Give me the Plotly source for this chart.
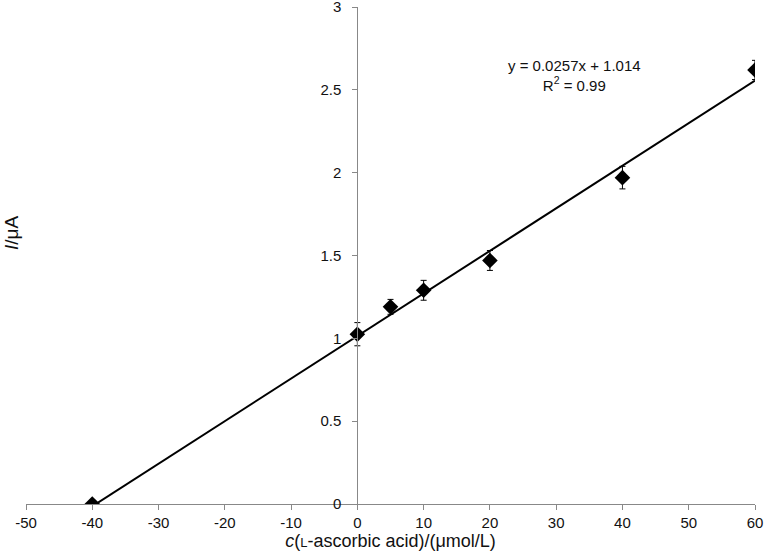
import plotly.graph_objects as go

# measured points
conc = [-40, 0, 5, 10, 20, 40, 60]
current = [0.0, 1.025, 1.19, 1.29, 1.47, 1.97, 2.62]
err = [0, 0.07, 0.045, 0.06, 0.06, 0.068, 0.058]

# linear fit shown on chart
slope = 0.0257
intercept = 1.014
fit_x = [-40, 60]
fit_y = [slope * v + intercept for v in fit_x]

x_range = [-50, 60]
y_range = [0, 3]
x_ticks = [-50, -40, -30, -20, -10, 0, 10, 20, 30, 40, 50, 60]
x_labels = [str(v) for v in x_ticks]  # plain hyphen minus like the original

fig = go.Figure()
fig.add_trace(go.Scatter(x=fit_x, y=fit_y, mode="lines",
                         line=dict(color="black", width=2), hoverinfo="skip"))
fig.add_trace(go.Scatter(x=conc, y=current, mode="markers",
                         marker=dict(symbol="diamond", size=12, color="black"),
                         error_y=dict(type="data", array=err, visible=True,
                                      color="black", thickness=1, width=3)))

W, H = 764, 560
l, r, t, b = 26, 9, 7, 56
ypos = (0 - x_range[0]) / (x_range[1] - x_range[0])

fig.update_layout(
    width=W, height=H,
    margin=dict(l=l, r=r, t=t, b=b),
    plot_bgcolor="white", paper_bgcolor="white",
    showlegend=False,
    font=dict(family="Liberation Sans, Arial", size=15, color="#111"),
    xaxis=dict(range=x_range, tickmode="array", tickvals=x_ticks, ticktext=x_labels,
               showgrid=False, zeroline=False,
               showline=True, linecolor="#888", linewidth=1,
               ticks="outside", ticklen=5, tickcolor="#888", automargin=False,
               ticklabeloverflow="allow",
               title=dict(text="<i>c</i>(<span style='font-size:13px'>L</span>-ascorbic acid)/(μmol/L)",
                          font=dict(size=18), standoff=2)),
    yaxis=dict(range=y_range, dtick=0.5, showgrid=False, zeroline=False,
               showline=True, linecolor="#888", linewidth=1,
               ticks="outside", ticklen=5, tickcolor="#888", automargin=False,
               ticklabelstandoff=8, ticklabeloverflow="allow",
               anchor="free", position=ypos),
    annotations=[
        dict(text="y = 0.0257x + 1.014<br>R<sup>2</sup> = 0.99",
             x=(643 - l) / (W - l - r), y=(H - b - 55) / (H - t - b),
             xref="paper", yref="paper", showarrow=False, align="center",
             font=dict(size=15, color="#111")),
        dict(text="<i>I</i>/μA", x=(12 - l) / (W - l - r), y=(H - b - 232) / (H - t - b),
             xref="paper", yref="paper", xanchor="center",
             showarrow=False, textangle=-90, font=dict(size=19, color="#111")),
    ],
)

# page body has a default 8px margin; drop it so the figure fills the window
fig.write_html("out.html", config={"displayModeBar": False},
               post_script="document.body.style.margin='0';")
